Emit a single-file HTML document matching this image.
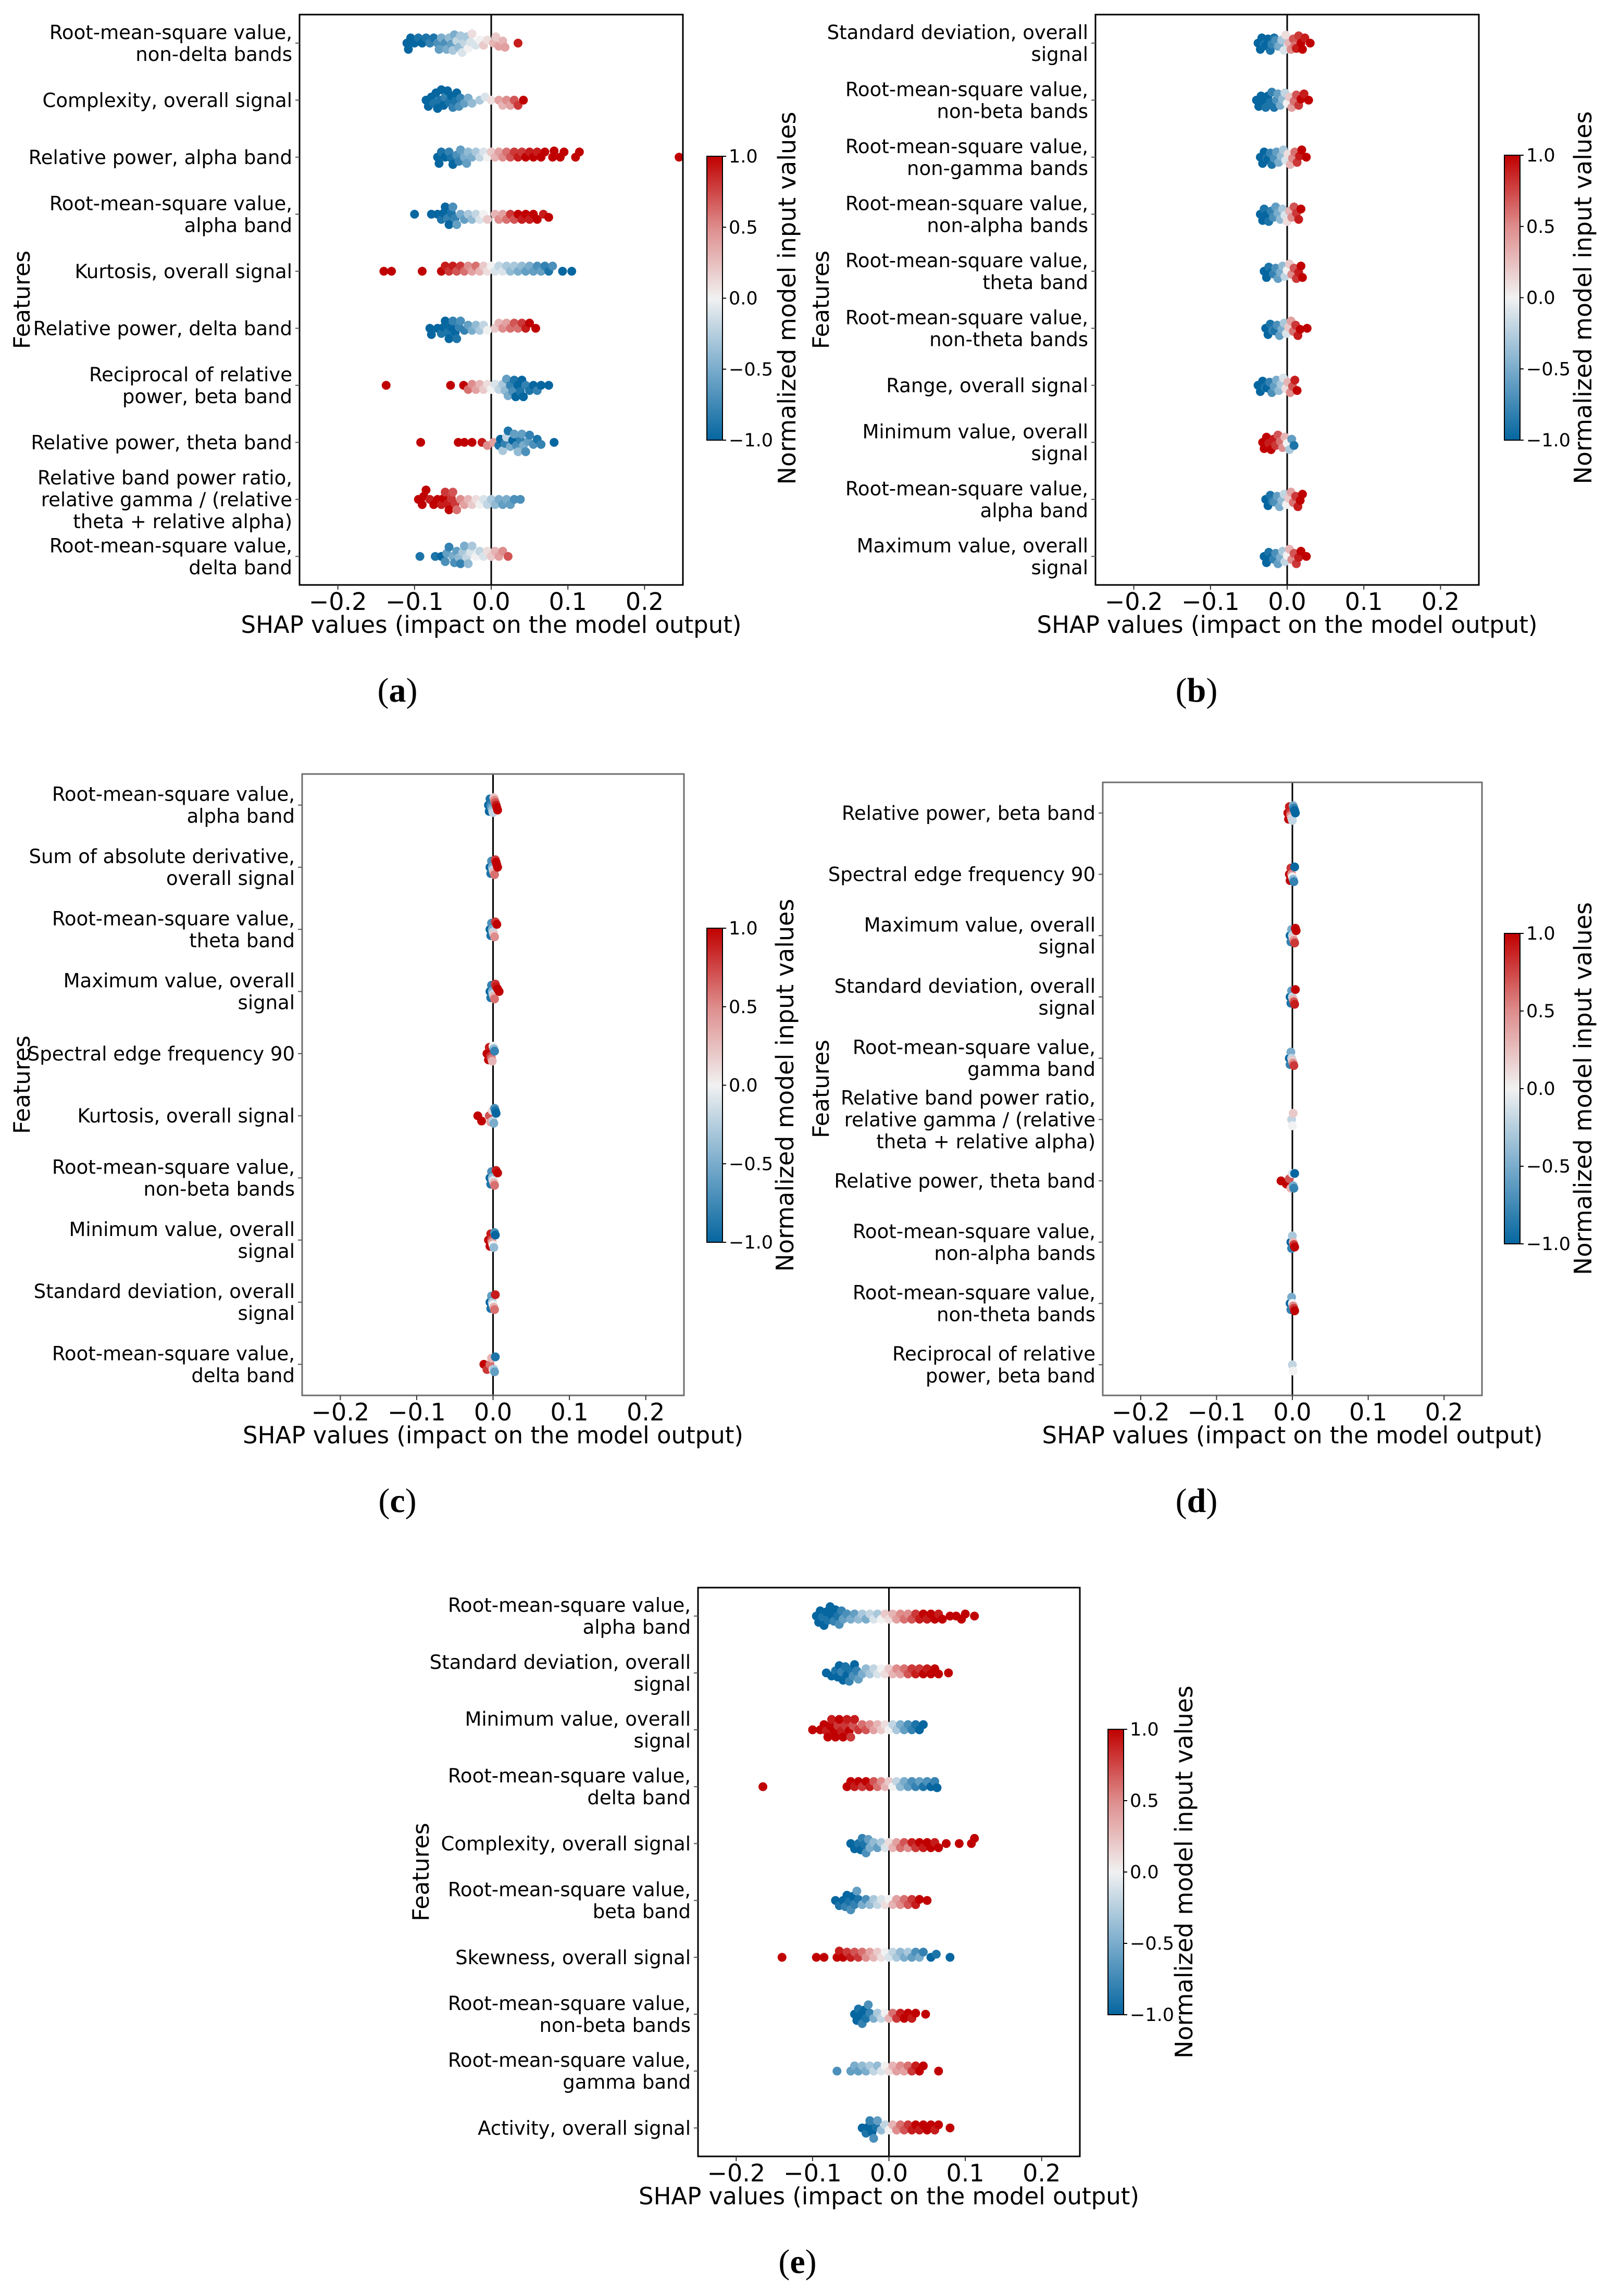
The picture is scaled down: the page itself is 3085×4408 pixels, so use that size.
<!DOCTYPE html>
<html><head><meta charset="utf-8"><title>SHAP summary plots</title>
<style>
html,body{margin:0;padding:0;background:#fff;}
svg{display:block;font-family:"DejaVu Sans","Liberation Sans",sans-serif;}
</style></head>
<body>
<svg id="fig" xmlns="http://www.w3.org/2000/svg" width="3085" height="4408" viewBox="0 0 3085 4408">
<rect x="0" y="0" width="3085" height="4408" fill="#fff"/>
<defs>
<linearGradient id="cmap" x1="0" y1="1" x2="0" y2="0">
<stop offset="0" stop-color="rgb(5,102,160)"/>
<stop offset="0.25" stop-color="rgb(122,172,204)"/>
<stop offset="0.5" stop-color="rgb(241,241,241)"/>
<stop offset="0.75" stop-color="rgb(222,140,140)"/>
<stop offset="1" stop-color="rgb(192,0,0)"/>
</linearGradient>
</defs>
</svg>
<script>
// ---------- data ----------
const xTicks = [-0.2, -0.1, 0.0, 0.1, 0.2];
const xTickLabels = ["\u22120.2", "\u22120.1", "0.0", "0.1", "0.2"];
const cbTicks = [1.0, 0.5, 0.0, -0.5, -1.0];
const cbTickLabels = ["1.0", "0.5", "0.0", "\u22120.5", "\u22121.0"];

const aLabels = ["Root-mean-square value,|non-delta bands","Complexity, overall signal","Relative power, alpha band","Root-mean-square value,|alpha band","Kurtosis, overall signal","Relative power, delta band","Reciprocal of relative|power, beta band","Relative power, theta band","Relative band power ratio,|relative gamma / (relative|theta + relative alpha)","Root-mean-square value,|delta band"];
const aShap = [
[-0.11,-0.108,-0.105,-0.1,-0.095,-0.09,-0.085,-0.08,-0.075,-0.07,-0.068,-0.065,-0.06,-0.058,-0.055,-0.052,-0.05,-0.048,-0.045,-0.042,-0.04,-0.038,-0.035,-0.032,-0.03,-0.027,-0.025,-0.02,-0.015,-0.01,-0.005,0.003,0.006,0.01,0.015,0.018,0.035],
[-0.085,-0.082,-0.078,-0.075,-0.072,-0.07,-0.067,-0.065,-0.062,-0.06,-0.057,-0.055,-0.052,-0.05,-0.047,-0.045,-0.042,-0.04,-0.035,-0.03,-0.025,-0.015,-0.008,0,0.01,0.015,0.02,0.025,0.03,0.035,0.042],
[-0.07,-0.068,-0.065,-0.06,-0.055,-0.052,-0.05,-0.045,-0.042,-0.04,-0.035,-0.032,-0.03,-0.025,-0.02,-0.015,-0.01,-0.005,0,0.005,0.01,0.015,0.02,0.025,0.03,0.035,0.04,0.045,0.05,0.055,0.06,0.065,0.07,0.08,0.082,0.09,0.095,0.11,0.115,0.245],
[-0.1,-0.078,-0.07,-0.065,-0.062,-0.06,-0.057,-0.055,-0.052,-0.05,-0.047,-0.045,-0.04,-0.035,-0.03,-0.025,-0.02,-0.015,-0.01,-0.005,0.005,0.01,0.015,0.02,0.025,0.03,0.035,0.04,0.045,0.05,0.055,0.06,0.068,0.075],
[-0.14,-0.13,-0.09,-0.065,-0.06,-0.055,-0.05,-0.045,-0.04,-0.035,-0.03,-0.025,-0.02,-0.015,-0.01,-0.005,0,0.005,0.01,0.015,0.02,0.025,0.03,0.035,0.04,0.045,0.05,0.055,0.06,0.065,0.07,0.075,0.08,0.093,0.105],
[-0.08,-0.078,-0.07,-0.065,-0.062,-0.06,-0.057,-0.055,-0.052,-0.05,-0.047,-0.045,-0.042,-0.04,-0.035,-0.03,-0.025,-0.02,-0.015,-0.01,-0.005,0.005,0.01,0.015,0.02,0.025,0.03,0.035,0.04,0.045,0.05,0.058],
[-0.137,-0.053,-0.036,-0.03,-0.025,-0.02,-0.015,-0.01,-0.005,0,0.005,0.01,0.015,0.018,0.02,0.022,0.025,0.028,0.03,0.032,0.035,0.038,0.04,0.042,0.045,0.05,0.055,0.06,0.065,0.075],
[-0.092,-0.043,-0.035,-0.025,-0.012,-0.005,0.003,0.01,0.012,0.015,0.018,0.02,0.022,0.025,0.028,0.03,0.033,0.035,0.038,0.04,0.042,0.045,0.048,0.05,0.055,0.06,0.065,0.082],
[-0.095,-0.09,-0.088,-0.085,-0.08,-0.075,-0.07,-0.065,-0.062,-0.06,-0.057,-0.055,-0.052,-0.05,-0.047,-0.045,-0.04,-0.035,-0.03,-0.025,-0.02,-0.015,-0.01,-0.005,0,0.005,0.01,0.015,0.02,0.025,0.03,0.038],
[-0.093,-0.073,-0.065,-0.06,-0.058,-0.055,-0.05,-0.048,-0.045,-0.042,-0.04,-0.037,-0.035,-0.032,-0.03,-0.027,-0.025,-0.02,-0.015,-0.01,-0.005,0,0.005,0.01,0.015,0.022]
];
const aColor = [
[-1,-1,-1,-1,-0.9,-1,-0.9,-0.8,-0.9,-0.7,-0.6,-0.5,-0.7,-0.5,-0.4,-0.6,-0.3,-0.5,-0.2,-0.4,-0.3,-0.1,-0.2,-0.3,0,-0.1,0.1,-0.1,0,0.2,0.1,0.3,0.2,0.4,0.3,0.4,0.9],
[-1,-1,-1,-0.9,-1,-1,-0.9,-1,-1,-0.8,-1,-0.9,-1,-0.8,-0.9,-1,-0.7,-0.8,-0.6,-0.5,-0.4,-0.3,-0.1,0.1,0.4,0.3,0.5,0.4,0.7,0.8,1],
[-1,-1,-0.9,-1,-0.8,-0.9,-1,-0.7,-0.8,-0.6,-0.5,-0.6,-0.4,-0.5,-0.3,-0.2,-0.1,0,0.2,0.3,0.4,0.5,0.6,0.7,0.8,0.9,0.8,1,0.9,1,0.9,1,1,1,1,1,1,1,1,1],
[-1,-1,-1,-0.9,-1,-1,-0.8,-1,-0.9,-0.7,-0.8,-0.6,-0.5,-0.6,-0.3,-0.4,-0.2,-0.1,0,0.2,0.3,0.5,0.4,0.6,0.8,0.7,1,0.9,1,0.9,1,1,0.9,1],
[1,1,1,1,0.9,0.8,0.9,0.7,0.8,0.6,0.5,0.4,0.6,0.3,0.2,0.1,0,-0.1,-0.2,-0.1,-0.3,-0.4,-0.3,-0.5,-0.4,-0.6,-0.5,-0.6,-0.7,-0.6,-0.8,-0.9,-0.7,-1,-1],
[-1,-1,-1,-0.9,-1,-1,-0.9,-1,-1,-0.8,-1,-0.9,-0.8,-0.7,-0.8,-0.6,-0.5,-0.4,-0.3,-0.2,0,0.2,0.3,0.5,0.4,0.6,0.7,0.6,0.8,0.9,1,1],
[1,1,1,0.6,0.5,0.4,0.3,0.2,0.1,0,-0.1,-0.2,-0.3,-0.4,-0.6,-0.5,-0.8,-0.7,-0.9,-1,-1,-0.9,-1,-1,-0.8,-0.9,-1,-0.8,-1,-1],
[1,1,1,1,0.9,0.5,0.4,-0.9,-1,-0.3,-0.8,-0.2,-0.9,-0.5,-1,-0.6,-0.7,-0.4,-0.8,-0.6,-0.5,-0.7,-0.6,-0.8,-0.7,-0.9,-0.8,-1],
[1,1,1,1,0.9,1,1,0.9,1,0.8,0.9,1,0.8,0.7,0.8,0.6,0.5,0.4,0.3,0.2,0.1,0,-0.1,-0.2,-0.3,-0.4,-0.5,-0.6,-0.5,-0.6,-0.7,-0.7],
[-0.9,-0.9,-1,-0.7,-0.6,-0.8,-0.5,-0.7,-0.6,-0.4,-0.8,-0.3,-0.5,-0.2,-0.4,-0.1,-0.3,0,-0.2,-0.1,0.1,0.2,0.3,0.4,0.5,0.7]
];

const bLabels = ["Standard deviation, overall|signal","Root-mean-square value,|non-beta bands","Root-mean-square value,|non-gamma bands","Root-mean-square value,|non-alpha bands","Root-mean-square value,|theta band","Root-mean-square value,|non-theta bands","Range, overall signal","Minimum value, overall|signal","Root-mean-square value,|alpha band","Maximum value, overall|signal"];
const bShap = [
[-0.038,-0.035,-0.033,-0.03,-0.028,-0.025,-0.022,-0.02,-0.017,-0.015,-0.012,-0.01,-0.007,-0.004,-0.002,0.002,0.005,0.008,0.01,0.012,0.015,0.018,0.02,0.023,0.03],
[-0.04,-0.037,-0.034,-0.03,-0.028,-0.025,-0.022,-0.02,-0.017,-0.014,-0.012,-0.009,-0.006,-0.003,0,0.003,0.006,0.009,0.012,0.015,0.018,0.022,0.028],
[-0.035,-0.032,-0.03,-0.027,-0.025,-0.022,-0.02,-0.017,-0.014,-0.011,-0.008,-0.005,-0.002,0.001,0.004,0.007,0.01,0.013,0.016,0.019,0.025],
[-0.035,-0.032,-0.03,-0.027,-0.024,-0.021,-0.018,-0.015,-0.012,-0.009,-0.006,-0.003,0,0.003,0.006,0.009,0.012,0.015,0.018],
[-0.03,-0.027,-0.024,-0.021,-0.018,-0.015,-0.012,-0.009,-0.006,-0.003,0,0.003,0.006,0.009,0.012,0.015,0.018,0.02],
[-0.028,-0.025,-0.022,-0.019,-0.016,-0.013,-0.01,-0.007,-0.004,-0.001,0.002,0.005,0.008,0.011,0.014,0.017,0.026],
[-0.038,-0.035,-0.032,-0.029,-0.026,-0.023,-0.02,-0.017,-0.014,-0.011,-0.008,-0.005,-0.002,0.001,0.004,0.007,0.01,0.013],
[-0.032,-0.03,-0.027,-0.024,-0.021,-0.018,-0.015,-0.012,-0.009,-0.006,-0.003,0,0.003,0.006,0.009],
[-0.028,-0.025,-0.022,-0.019,-0.016,-0.013,-0.01,-0.007,-0.004,-0.001,0.002,0.005,0.008,0.011,0.014,0.017,0.02],
[-0.03,-0.027,-0.024,-0.021,-0.018,-0.015,-0.012,-0.009,-0.006,-0.003,0,0.003,0.006,0.009,0.012,0.015,0.018,0.025]
];
const bColor = [
[-1,-1,-1,-0.9,-1,-1,-0.9,-0.8,-0.9,-0.7,-0.6,-0.5,-0.3,-0.1,0.1,0.3,0.5,0.7,0.6,0.9,0.8,1,1,0.9,1],
[-1,-1,-1,-1,-0.9,-1,-0.9,-0.8,-0.9,-0.7,-0.6,-0.5,-0.4,-0.2,0,0.2,0.4,0.6,0.7,0.8,1,0.9,1],
[-1,-1,-1,-0.9,-1,-0.8,-0.9,-0.7,-0.6,-0.5,-0.4,-0.3,-0.1,0.1,0.3,0.5,0.6,0.8,0.9,1,1],
[-1,-1,-0.9,-1,-0.9,-0.8,-0.7,-0.6,-0.5,-0.4,-0.3,-0.1,0.1,0.3,0.5,0.7,0.8,0.9,1],
[-1,-1,-0.9,-1,-0.8,-0.7,-0.6,-0.5,-0.4,-0.2,0,0.2,0.5,0.7,0.8,0.9,1,1],
[-1,-1,-0.9,-0.8,-0.9,-0.7,-0.6,-0.5,-0.3,-0.1,0.2,0.4,0.6,0.8,0.9,1,1],
[-1,-1,-1,-0.9,-1,-0.8,-0.7,-0.6,-0.5,-0.4,-0.3,-0.1,0.1,0.3,0.5,0.7,0.9,1],
[1,1,1,0.9,1,0.9,0.8,0.7,0.6,0.5,0.3,0,-0.3,-0.6,-0.9],
[-1,-1,-0.9,-0.8,-0.7,-0.6,-0.5,-0.4,-0.2,0,0.2,0.4,0.6,0.8,0.9,1,1],
[-1,-1,-0.9,-1,-0.8,-0.7,-0.6,-0.5,-0.3,-0.2,0,0.3,0.5,0.7,0.8,0.9,1,1]
];

const cLabels = ["Root-mean-square value,|alpha band","Sum of absolute derivative,|overall signal","Root-mean-square value,|theta band","Maximum value, overall|signal","Spectral edge frequency 90","Kurtosis, overall signal","Root-mean-square value,|non-beta bands","Minimum value, overall|signal","Standard deviation, overall|signal","Root-mean-square value,|delta band"];
const cShap = [
[-0.006,-0.005,-0.004,-0.003,-0.002,-0.001,0,0.001,0.002,0.003,0.004,0.005,0.006],
[-0.004,-0.003,-0.002,-0.001,0,0.001,0.002,0.003,0.004,0.005,0.006],
[-0.004,-0.003,-0.002,-0.001,0,0.001,0.002,0.003,0.005],
[-0.004,-0.003,-0.002,-0.001,0,0.001,0.002,0.003,0.004,0.006,0.008],
[-0.008,-0.006,-0.005,-0.004,-0.003,-0.002,-0.001,0,0.001,0.002],
[-0.02,-0.015,-0.005,-0.003,-0.001,0,0.001,0.002,0.003,0.004],
[-0.004,-0.003,-0.002,-0.001,0,0.001,0.002,0.004,0.006],
[-0.006,-0.004,-0.003,-0.002,-0.001,0,0.001,0.002,0.003],
[-0.004,-0.003,-0.002,-0.001,0,0.001,0.002,0.003],
[-0.012,-0.008,-0.004,-0.002,0,0.001,0.002,0.003]
];
const cColor = [
[-1,-1,-0.9,-0.8,-0.6,-0.4,-0.2,0.2,0.5,0.7,0.9,1,1],
[-1,-0.9,-0.7,-0.5,-0.2,0.3,0.6,0.8,1,1,1],
[-1,-0.9,-0.7,-0.5,-0.2,0.2,0.5,0.8,1],
[-1,-0.9,-0.8,-0.5,-0.2,0.3,0.6,0.8,0.9,1,1],
[1,1,0.9,1,0.8,0.6,0.3,0,-0.4,-0.8],
[1,1,0.7,0.4,0.1,-0.2,-0.5,-0.7,-0.9,-1],
[-1,-0.9,-0.7,-0.4,-0.1,0.3,0.6,0.9,1],
[1,1,0.9,0.7,0.4,0,-0.4,-0.7,-1],
[-1,-0.9,-0.6,-0.3,0,0.3,0.6,0.9],
[1,0.8,0.6,0.3,0,-0.3,-0.6,-0.9]
];

const dLabels = ["Relative power, beta band","Spectral edge frequency 90","Maximum value, overall|signal","Standard deviation, overall|signal","Root-mean-square value,|gamma band","Relative band power ratio,|relative gamma / (relative|theta + relative alpha)","Relative power, theta band","Root-mean-square value,|non-alpha bands","Root-mean-square value,|non-theta bands","Reciprocal of relative|power, beta band"];
const dShap = [
[-0.006,-0.005,-0.004,-0.003,-0.002,-0.001,0,0.001,0.002,0.003,0.004],
[-0.004,-0.003,-0.002,-0.001,0,0.001,0.002,0.003],
[-0.003,-0.002,-0.001,0,0.001,0.002,0.003,0.004,0.005],
[-0.003,-0.002,-0.001,0,0.001,0.002,0.003,0.004],
[-0.004,-0.003,-0.002,-0.001,0,0.001,0.002],
[-0.001,0,0.001],
[-0.015,-0.008,-0.004,-0.002,0,0.001,0.002,0.003],
[-0.002,-0.001,0,0.001,0.002,0.003],
[-0.003,-0.002,-0.001,0,0.001,0.002,0.003],
[0,0.001]
];
const dColor = [
[1,1,0.9,0.8,0.5,0.2,-0.2,-0.5,-0.8,-1,-1],
[1,1,0.8,0.5,0,-0.4,-0.8,-1],
[-1,-0.8,-0.5,-0.2,0.2,0.5,0.8,1,1],
[-1,-0.9,-0.6,-0.2,0.3,0.7,0.9,1],
[-1,-0.8,-0.5,-0.2,0.2,0.5,0.8],
[-0.2,0,0.2],
[1,1,0.7,0.3,-0.1,-0.5,-0.8,-1],
[-1,-0.8,-0.3,0.3,0.8,1],
[-1,-0.8,-0.5,0,0.5,0.8,1],
[-0.2,0]
];

const eLabels = ["Root-mean-square value,|alpha band","Standard deviation, overall|signal","Minimum value, overall|signal","Root-mean-square value,|delta band","Complexity, overall signal","Root-mean-square value,|beta band","Skewness, overall signal","Root-mean-square value,|non-beta bands","Root-mean-square value,|gamma band","Activity, overall signal"];
const eShap = [
[-0.095,-0.092,-0.09,-0.087,-0.085,-0.082,-0.08,-0.077,-0.075,-0.072,-0.07,-0.067,-0.065,-0.062,-0.06,-0.055,-0.05,-0.045,-0.04,-0.035,-0.03,-0.025,-0.02,-0.015,-0.01,-0.005,0,0.005,0.01,0.015,0.02,0.025,0.03,0.035,0.04,0.045,0.05,0.055,0.06,0.065,0.07,0.08,0.088,0.095,0.1,0.112],
[-0.082,-0.075,-0.07,-0.067,-0.065,-0.062,-0.06,-0.057,-0.055,-0.052,-0.05,-0.047,-0.045,-0.042,-0.04,-0.035,-0.03,-0.025,-0.02,-0.015,-0.01,-0.005,0,0.005,0.01,0.015,0.02,0.025,0.03,0.035,0.04,0.045,0.05,0.055,0.06,0.065,0.078],
[-0.1,-0.09,-0.085,-0.082,-0.08,-0.077,-0.075,-0.072,-0.07,-0.067,-0.065,-0.062,-0.06,-0.057,-0.055,-0.052,-0.05,-0.047,-0.045,-0.04,-0.035,-0.03,-0.025,-0.02,-0.015,-0.01,-0.005,0,0.005,0.01,0.015,0.02,0.025,0.03,0.035,0.04,0.045],
[-0.165,-0.055,-0.05,-0.045,-0.04,-0.035,-0.03,-0.025,-0.02,-0.015,-0.01,-0.005,0,0.005,0.01,0.015,0.02,0.025,0.03,0.035,0.04,0.045,0.05,0.055,0.06,0.063],
[-0.05,-0.045,-0.04,-0.037,-0.035,-0.032,-0.03,-0.027,-0.025,-0.02,-0.015,-0.01,-0.005,0,0.005,0.01,0.015,0.02,0.025,0.03,0.035,0.04,0.045,0.05,0.055,0.06,0.065,0.075,0.092,0.108,0.112],
[-0.07,-0.065,-0.06,-0.057,-0.055,-0.052,-0.05,-0.047,-0.045,-0.042,-0.04,-0.035,-0.03,-0.025,-0.02,-0.015,-0.01,-0.005,0,0.005,0.01,0.015,0.02,0.025,0.03,0.035,0.04,0.05],
[-0.14,-0.095,-0.085,-0.068,-0.065,-0.06,-0.055,-0.05,-0.045,-0.04,-0.035,-0.03,-0.025,-0.02,-0.015,-0.01,-0.005,0,0.005,0.01,0.015,0.02,0.025,0.03,0.035,0.04,0.045,0.055,0.062,0.08],
[-0.045,-0.042,-0.04,-0.037,-0.035,-0.032,-0.03,-0.027,-0.025,-0.02,-0.015,-0.01,-0.005,0,0.005,0.01,0.015,0.02,0.025,0.03,0.035,0.048],
[-0.068,-0.05,-0.045,-0.04,-0.035,-0.03,-0.025,-0.02,-0.015,-0.01,-0.005,0,0.005,0.01,0.015,0.02,0.025,0.03,0.035,0.04,0.045,0.065],
[-0.035,-0.03,-0.027,-0.025,-0.022,-0.02,-0.017,-0.015,-0.01,-0.005,0,0.005,0.01,0.015,0.02,0.025,0.03,0.035,0.04,0.045,0.05,0.055,0.06,0.065,0.08]
];
const eColor = [
[-1,-1,-1,-0.9,-1,-1,-0.9,-1,-1,-0.8,-1,-0.9,-0.7,-0.8,-0.6,-0.7,-0.5,-0.6,-0.4,-0.3,-0.5,-0.2,-0.1,-0.3,0,0.2,0.1,0.3,0.4,0.5,0.6,0.5,0.7,0.8,0.9,1,0.9,1,1,0.9,1,1,1,1,1,1],
[-1,-1,-0.9,-1,-1,-0.8,-1,-0.9,-1,-0.8,-0.9,-0.7,-1,-0.8,-0.6,-0.5,-0.4,-0.3,-0.2,-0.1,0,0.1,0.2,0.3,0.5,0.4,0.6,0.7,0.8,0.9,0.8,1,0.9,1,1,1,1],
[1,1,1,0.9,1,1,0.9,1,1,0.8,1,0.9,1,0.8,0.9,1,0.8,0.7,0.9,0.8,0.6,0.7,0.5,0.4,0.3,0.2,0.1,0,-0.2,-0.3,-0.5,-0.6,-0.7,-0.8,-0.9,-1,-1],
[1,1,1,0.9,1,0.8,1,0.9,0.7,0.6,0.5,0.3,0.2,0,-0.2,-0.4,-0.5,-0.6,-0.7,-0.8,-0.6,-0.9,-0.7,-1,-0.8,-1],
[-1,-1,-0.9,-1,-0.8,-0.9,-0.7,-0.6,-0.5,-0.4,-0.6,-0.3,-0.1,0.1,0.3,0.4,0.6,0.7,0.5,0.9,0.8,1,0.9,1,1,0.9,1,1,1,1,1],
[-1,-0.9,-1,-0.8,-1,-0.9,-0.7,-1,-0.8,-0.6,-0.9,-0.5,-0.7,-0.4,-0.3,-0.2,-0.1,0.1,0,0.3,0.4,0.5,0.6,0.7,0.8,0.9,1,1],
[1,1,1,1,0.9,1,0.8,0.9,0.7,0.8,0.6,0.5,0.4,0.3,0.2,0.1,0,-0.1,-0.2,-0.3,-0.4,-0.5,-0.3,-0.6,-0.7,-0.5,-0.8,-1,-0.9,-1],
[-1,-1,-0.9,-1,-0.8,-1,-0.9,-0.7,-0.8,-0.5,-0.3,-0.2,0,0.3,0.6,0.8,0.9,1,1,0.9,1,1],
[-0.7,-0.6,-0.5,-0.6,-0.4,-0.5,-0.3,-0.2,-0.4,-0.1,0,0.1,0.3,0.4,0.5,0.4,0.6,0.8,0.9,1,1,1],
[-1,-0.9,-1,-0.8,-1,-0.7,-0.9,-0.6,-0.4,-0.2,0,0.3,0.5,0.6,0.7,0.8,0.9,1,0.9,1,1,1,0.9,1,1]
];

// ---------- layout ----------
const panels = [
 {id:'a', box:[575,28,1311,1123], labels:aLabels, shap:aShap, col:aColor, cb:[1357,300,1387,845], cbTitleX:1512, featX:42, letter:'a', letterX:763, frame:'#000', maxOff:0.26},
 {id:'b', box:[2103,28,2839,1123], labels:bLabels, shap:bShap, col:bColor, cb:[2888,298,2918,845], cbTitleX:3040, featX:1576, letter:'b', letterX:2297, frame:'#000', maxOff:0.14},
 {id:'c', box:[580,1486,1313,2679], labels:cLabels, shap:cShap, col:cColor, cb:[1357,1782,1387,2385], cbTitleX:1508, featX:42, letter:'c', letterX:763, frame:'#6e6e6e', maxOff:0.12},
 {id:'d', box:[2117,1502,2845,2679], labels:dLabels, shap:dShap, col:dColor, cb:[2888,1792,2918,2388], cbTitleX:3040, featX:1576, letter:'d', letterX:2297, frame:'#6e6e6e', maxOff:0.12},
 {id:'e', box:[1340,3048,2073,4140], labels:eLabels, shap:eShap, col:eColor, cb:[2127,3320,2157,3868], cbTitleX:2274, featX:808, letter:'e', letterX:1531, frame:'#000', maxOff:0.26}
];
const XMIN = -0.25, XMAX = 0.25, R = 8.5;
const NS = 'http://www.w3.org/2000/svg';
const svg = document.getElementById('fig');

function mk(tag, attrs, parent) {
  const el = document.createElementNS(NS, tag);
  for (const k in attrs) el.setAttribute(k, attrs[k]);
  (parent || svg).appendChild(el);
  return el;
}
const STOPS = [[-1,[5,102,160]],[-0.5,[122,172,204]],[0,[241,241,241]],[0.5,[222,140,140]],[1,[192,0,0]]];
function cmap(v) {
  v = Math.max(-1, Math.min(1, v));
  for (let i = 0; i < STOPS.length - 1; i++) {
    const [a, ca] = STOPS[i], [b, cb] = STOPS[i + 1];
    if (v <= b) {
      const t = (v - a) / (b - a);
      return 'rgb(' + ca.map((c, j) => Math.round(c + (cb[j] - c) * t)).join(',') + ')';
    }
  }
  return 'rgb(192,0,0)';
}

panels.forEach(p => {
  const [x0, y0, x1, y1] = p.box;
  const n = p.labels.length;
  const rowH = (y1 - y0) / n;
  const xs = v => x0 + (v - XMIN) / (XMAX - XMIN) * (x1 - x0);
  const ys = i => y0 + rowH * (i + 0.5);
  const g = mk('g', {});
  
  

  const zl = mk('line', {x1: xs(0), x2: xs(0), y1: y0, y2: y1, stroke: '#000', 'stroke-width': 3}, g);
  
  

  p.shap.forEach((vals, ri) => {
    const cols = p.col[ri];
    const m = Math.min(vals.length, cols.length);
    const cy = ys(ri);
    const maxOff = p.maxOff * rowH;
    const order = [];
    for (let k = 0; k < m; k++) order.push(k);
    order.sort((a, b) => vals[a] - vals[b]);
    const placed = [];
    const offs = new Array(m).fill(0);
    order.forEach((k, idx) => {
      const px = xs(vals[k]);
      const step = 2;
      let chosen = null;
      for (let s = 0; s * step <= maxOff; s++) {
        const cands = s === 0 ? [0] : (idx % 2 ? [s * step, -s * step] : [-s * step, s * step]);
        for (const off of cands) {
          let ok = true;
          for (const q of placed) {
            const dx = q[0] - px, dy = q[1] - off;
            if (dx * dx + dy * dy < (1.35 * R) * (1.35 * R)) { ok = false; break; }
          }
          if (ok) { chosen = off; break; }
        }
        if (chosen !== null) break;
      }
      if (chosen === null) chosen = ((idx % 7) - 3) / 3 * maxOff;
      offs[k] = chosen;
      placed.push([px, chosen]);
    });
    const rg = mk('g', {}, g);
    
    
    for (let k = 0; k < m; k++) {
      const c = mk('circle', {cx: xs(vals[k]).toFixed(1), cy: (cy + offs[k]).toFixed(1), r: R, fill: cmap(cols[k])}, rg);
      
      
    }
  });

  const fr = mk('rect', {x: x0, y: y0, width: x1 - x0, height: y1 - y0, fill: 'none', stroke: p.frame, 'stroke-width': 3}, g);
  
  

  p.labels.forEach((lab, i) => {
    const cy = ys(i);
    mk('line', {x1: x0 - 8, x2: x0, y1: cy, y2: cy, stroke: '#555', 'stroke-width': 2}, g);
    const lines = lab.split('|');
    const lh = 42;
    const t = mk('text', {x: x0 - 14, y: 0, 'text-anchor': 'end', 'font-size': 37, fill: '#000'}, g);
    
    
    lines.forEach((ln, j) => {
      const ts = mk('tspan', {x: x0 - 14, y: (cy + (j - (lines.length - 1) / 2) * lh + 13).toFixed(1)}, t);
      ts.textContent = ln;
    });
  });

  xTicks.forEach((v, i) => {
    const x = xs(v);
    mk('line', {x1: x, x2: x, y1: y1, y2: y1 + 9, stroke: '#333', 'stroke-width': 2}, g);
    const t = mk('text', {x: x, y: y1 + 48, 'text-anchor': 'middle', 'font-size': 46, fill: '#000'}, g);
    
    
    t.textContent = xTickLabels[i];
  });
  const xl = mk('text', {x: (x0 + x1) / 2, y: y1 + 92, 'text-anchor': 'middle', 'font-size': 45, fill: '#000'}, g);
  
  
  xl.textContent = 'SHAP values (impact on the model output)';

  const fy = (y0 + y1) / 2;
  const ft = mk('text', {x: p.featX, y: fy, 'text-anchor': 'middle', 'font-size': 44, fill: '#000', transform: 'rotate(-90 ' + p.featX + ' ' + fy + ')', dy: 15}, g);
  
  
  ft.textContent = 'Features';

  const [cx0, cy0, cx1, cy1] = p.cb;
  const cbr = mk('rect', {x: cx0, y: cy0, width: cx1 - cx0, height: cy1 - cy0, fill: 'url(#cmap)', stroke: '#000', 'stroke-width': 2}, g);
  
  
  cbTicks.forEach((v, i) => {
    const y = cy1 - (v + 1) / 2 * (cy1 - cy0);
    mk('line', {x1: cx1, x2: cx1 + 7, y1: y, y2: y, stroke: '#000', 'stroke-width': 2}, g);
    const t = mk('text', {x: cx1 + 12, y: y + 12, 'font-size': 35, fill: '#000'}, g);
    
    
    t.textContent = cbTickLabels[i];
  });
  const cty = (cy0 + cy1) / 2;
  const ct = mk('text', {x: p.cbTitleX, y: cty, 'text-anchor': 'middle', 'font-size': 46, fill: '#000', transform: 'rotate(-90 ' + p.cbTitleX + ' ' + cty + ')', dy: 15}, g);
  
  
  ct.textContent = 'Normalized model input values';

  const pl = mk('text', {x: p.letterX, y: y1 + 224, 'text-anchor': 'middle', 'font-size': 66, fill: '#000', 'font-family': '"Liberation Serif", serif'}, g);
  
  
  const t1 = mk('tspan', {}, pl); t1.textContent = '(';
  const t2 = mk('tspan', {'font-weight': 'bold'}, pl); t2.textContent = p.letter;
  const t3 = mk('tspan', {}, pl); t3.textContent = ')';
});
</script>
</body></html>
